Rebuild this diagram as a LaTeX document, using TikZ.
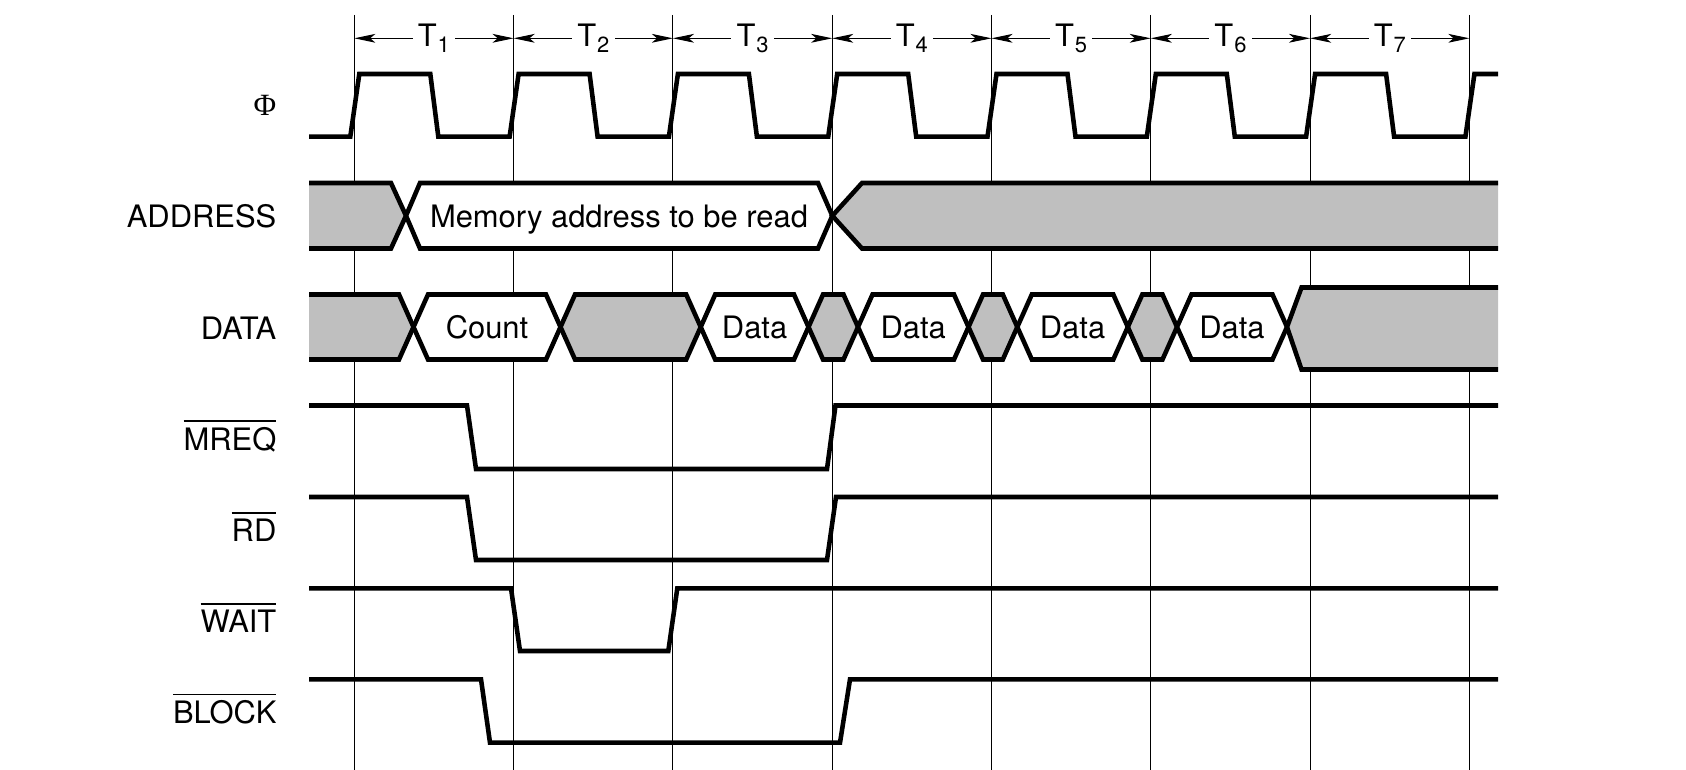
\documentclass[tikz,border=0pt]{standalone}
\usepackage{fontspec}
\setmainfont{TeX Gyre Heros}
\newfontfamily\phifont{Liberation Serif}
\usetikzlibrary{arrows.meta}
\definecolor{busgray}{RGB}{191,191,191}
\newcommand{\Tsub}[1]{T\kern0.5pt\raisebox{-3.2pt}{\fontsize{12.5}{12.5}\selectfont #1}}
\newcommand{\lowact}[1]{\leavevmode\vbox{\hrule height 1.1pt\kern 2.8pt\hbox{#1}}}

\begin{document}
\begin{tikzpicture}[x=0.02cm, y=-0.02cm,
    sig/.style={line width=2.6pt, line join=miter},
    guide/.style={line width=0.6pt},
    tarr/.style={line width=0.6pt, arrows={Stealth[length=12pt,width=5pt,inset=3pt]-Stealth[length=12pt,width=5pt,inset=3pt]}},
    tlbl/.style={fill=white, inner xsep=3pt, inner ysep=0pt},
    lbl/.style={anchor=base east, inner sep=0pt},
    txt/.style={anchor=base, inner sep=0pt},
    every node/.style={font=\fontsize{17.6}{21}\selectfont}
  ]
  \useasboundingbox (0,0) rectangle (1686,770);

  % time grid and periods
  \foreach \k in {0,...,7}
    \draw[guide] ({354.3+159.3*\k},15) -- ({354.3+159.3*\k},770);
  \foreach \k in {1,...,7}
    \draw[tarr] ({354.3+159.3*(\k-1)},38.3) -- ({354.3+159.3*\k},38.3) node[midway, tlbl] (t\k) {\Tsub{\k}};

  % clock
  \draw[sig] (309,136.7)
    \foreach \k in {0,...,6} {
      -- ({350.3+159.3*\k},136.7) -- ({359.3+159.3*\k},74)
      -- ({430.3+159.3*\k},74) -- ({438.3+159.3*\k},136.7)}
    -- (1465.4,136.7) -- (1474.4,74) -- (1498,74);

  % address bus
  \draw[sig, fill=busgray] (309,183) -- (391,183) -- (406,215.75) -- (391,248.5) -- (309,248.5);
  \draw[sig, fill=white] (406,215.75) -- (420,183) -- (818,183) -- (832.3,215.75) -- (818,248.5) -- (420,248.5) -- cycle;
  \draw[sig, fill=busgray] (1498,183) -- (862,183) -- (832.3,215.75) -- (862,248.5) -- (1498,248.5);
  \node[txt] (addr) at (619,227.3) {Memory address to be read};

  % data bus
  \draw[sig, fill=busgray] (309,294.5) -- (399,294.5) -- (413.5,327) -- (399,359.5) -- (309,359.5);
  \foreach \a/\b in {560.5/700.7, 808.5/858, 968.5/1017.3, 1127.8/1177}
    \draw[sig, fill=busgray] (\a,327) -- ({\a+14.5},294.5) -- ({\b-14.5},294.5) -- (\b,327)
      -- ({\b-14.5},359.5) -- ({\a+14.5},359.5) -- cycle;
  \foreach \a/\b/\t/\n in {413.5/560.5/Count/cnt, 700.7/808.5/Data/d1, 858/968.5/Data/d2,
      1017.3/1127.8/Data/d3, 1177/1287/Data/d4} {
    \draw[sig, fill=white] (\a,327) -- ({\a+14.5},294.5) -- ({\b-14.5},294.5) -- (\b,327)
      -- ({\b-14.5},359.5) -- ({\a+14.5},359.5) -- cycle;
    \node[txt] (\n) at ({(\a+\b)/2},338) {\t};
  }
  \draw[sig, fill=busgray] (1498,287.5) -- (1301.5,287.5) -- (1287,327) -- (1301.5,369.5) -- (1498,369.5);

  % control lines
  \draw[sig] (309,405.5) -- (467,405.5) -- (476,469) -- (827,469) -- (835.5,405.5) -- (1498,405.5);
  \draw[sig] (309,497) -- (467,497) -- (476,560) -- (827,560) -- (836,497) -- (1498,497);
  \draw[sig] (309,588.3) -- (511,588.3) -- (520,651) -- (668.3,651) -- (677.3,588.3) -- (1498,588.3);
  \draw[sig] (309,679.3) -- (481,679.3) -- (490,742.7) -- (840,742.7) -- (850,679.3) -- (1498,679.3);

  % signal names
  \node[lbl, anchor=east] (phi) at (276.7,105.3) {\phifont Φ};
  \node[lbl] (address) at (276.7,227.7) {ADDRESS};
  \node[lbl] (data) at (276.7,339.3) {DATA};
  \node[lbl] (mreq) at (276.7,450) {\lowact{MREQ}};
  \node[lbl] (rd) at (276.7,541) {\lowact{RD}};
  \node[lbl] (wait) at (276.7,632.5) {\lowact{WAIT}};
  \node[lbl] (block) at (276.7,723.5) {\lowact{BLOCK}};
\end{tikzpicture}
\end{document}
